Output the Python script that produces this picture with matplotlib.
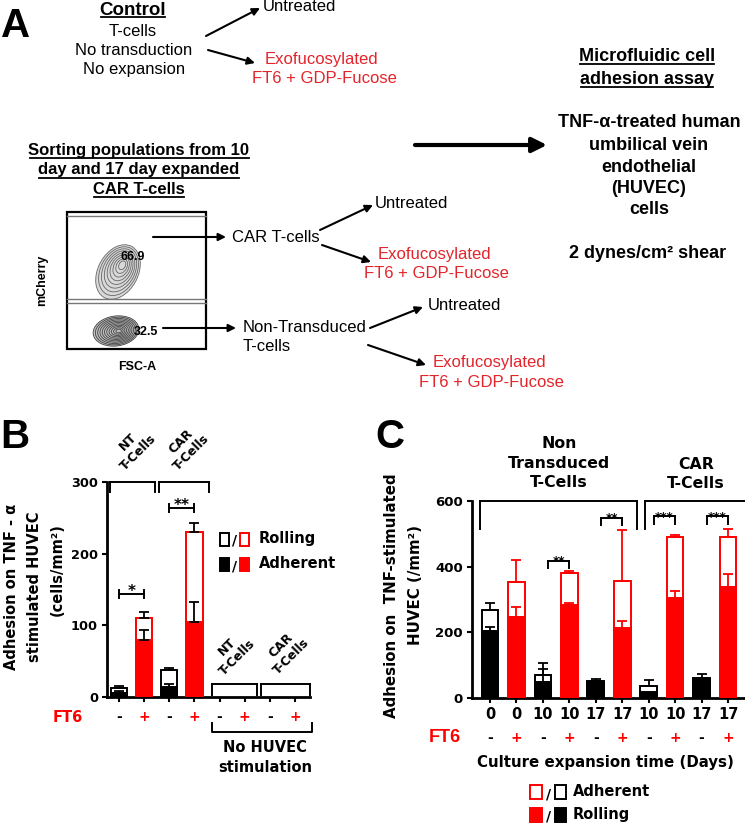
import matplotlib
matplotlib.use("Agg")
import matplotlib.pyplot as plt
import matplotlib.transforms as mtransforms
from matplotlib.patches import Rectangle, Ellipse

RED = "#ff0000"
TXT_RED = "#e3242b"
INK = "black"
SANS = "Liberation Sans"
PRISM = "DejaVu Sans"

plt.rcParams.update({
    "font.family": PRISM,
    "font.weight": "bold",
    "axes.linewidth": 2.0,
})

# --- Panel B : adhesion on TNF-stimulated HUVEC (cells/mm2) ---
b_ft6 = ["-", "+", "-", "+", "-", "+", "-", "+"]
b_total = [12, 110, 37, 230, 0, 0, 0, 0]          # rolling + adherent
b_total_err = [4, 8, 3, 13, 0, 0, 0, 0]
b_adherent = [5, 79, 14, 105, 0, 0, 0, 0]
b_adherent_err = [3, 15, 4, 28, 0, 0, 0, 0]
b_sig = [(0, 1, 144, "*"), (2, 3, 264, "**")]

# --- Panel C : adhesion vs culture expansion time ---
c_days = ["0", "0", "10", "10", "17", "17", "10", "10", "17", "17"]
c_ft6 = ["-", "+", "-", "+", "-", "+", "-", "+", "-", "+"]
c_total = [267, 352, 71, 381, 51, 357, 36, 489, 61, 491]
c_total_err = [21, 68, 37, 5, 8, 155, 20, 7, 11, 24]
c_rolling = [204, 247, 49, 283, 49, 212, 18, 306, 58, 339]
c_rolling_err = [13, 29, 40, 7, 0, 22, 0, 20, 0, 38]
c_sig = [(2.2, 3, 417, "**"), (4.2, 5, 549, "**"), (6.2, 7, 553, "***"), (8.2, 9, 553, "***")]

W, H = 745, 824
fig = plt.figure(figsize=(W / 100, H / 100), dpi=100)

# overlay in pixel coords (y down) for the schematic and free text
ov = fig.add_axes([0, 0, 1, 1], zorder=10)
ov.set_xlim(0, W)
ov.set_ylim(H, 0)
ov.axis("off")
ov.patch.set_alpha(0)


def T(x, y, s, size=12, weight="normal", color=INK, ha="center", va="center", family=SANS, **kw):
    return ov.text(x, y, s, fontsize=size, fontweight=weight, color=color, ha=ha, va=va,
                   family=family, **kw)


def arrow(x0, y0, x1, y1, lw=1.5, ms=11):
    ov.annotate("", xy=(x1, y1), xytext=(x0, y0),
                arrowprops=dict(arrowstyle="-|>", lw=lw, color=INK, mutation_scale=ms,
                                shrinkA=0, shrinkB=0))


underlined = []

# ---------------- Panel A ----------------
T(1, 37, "A", size=29, weight="bold", ha="left", va="baseline")
underlined.append((T(133, 10, "Control", size=13.5, weight="bold"), 17))
T(133, 31, "T-cells")
T(134, 50, "No transduction")
T(134, 69, "No expansion")
arrow(206, 36, 260, 8)
arrow(208, 50, 255, 63)
T(263, 6, "Untreated", ha="left")
T(321, 59, "Exofucosylated", color=TXT_RED)
T(324, 78, "FT6 + GDP-Fucose", color=TXT_RED)

underlined.append((T(647, 56, "Microfluidic cell", size=13, weight="bold"), 64))
underlined.append((T(647, 79, "adhesion assay", size=13, weight="bold"), 87))
for yy, s in zip([122, 145, 167, 188, 209],
                 ["TNF-\u03b1-treated human", "umbilical vein", "endothelial", "(HUVEC)", "cells"]):
    T(649, yy, s, size=13, weight="bold")
T(648, 253, "2 dynes/cm\u00b2 shear", size=13, weight="bold")
arrow(415, 145, 547, 145, lw=3, ms=22)

underlined.append((T(139, 150, "Sorting populations from 10", size=12, weight="bold"), 158))
underlined.append((T(139, 169, "day and 17 day expanded", size=12, weight="bold"), 178))
underlined.append((T(139, 189, "CAR T-cells", size=12, weight="bold"), 197))

# flow plot box with contour rings
ov.add_patch(Rectangle((67, 212), 139, 137, fill=False, lw=1.6, ec=INK))
for yy in [216, 299, 303]:
    ov.plot([67, 206], [yy, yy], color="#777777", lw=1.0)
for k in range(9):
    s = 1 - k * 0.105
    ov.add_patch(Ellipse((118 + 5 * (1 - s), 272 - 8 * (1 - s)), 58 * s, 40 * s, angle=-62,
                         fc="#d9d9d9" if k == 0 else "none", ec="#666666", lw=0.6))
for k in range(11):
    s = 1 - k * 0.088
    ov.add_patch(Ellipse((116 + 3 * (1 - s), 331), 46 * s, 30 * s, angle=-8,
                         fc="#bdbdbd" if k == 0 else "none", ec="#444444", lw=0.6))
T(133, 257, "66.9", size=9, weight="bold")
T(146, 332, "32.5", size=9, weight="bold")
T(42, 280, "mCherry", size=9, weight="bold", rotation=90)
T(137, 367, "FSC-A", size=9, weight="bold")

arrow(153, 237, 226, 237)
T(232, 237, "CAR T-cells", ha="left")
arrow(163, 328, 236, 328)
T(243, 327, "Non-Transduced", ha="left")
T(243, 346, "T-cells", ha="left")

arrow(320, 230, 373, 205)
T(375, 203, "Untreated", ha="left")
arrow(322, 245, 371, 262)
T(434, 254, "Exofucosylated", color=TXT_RED)
T(436, 273, "FT6 + GDP-Fucose", color=TXT_RED)
arrow(370, 328, 423, 307)
T(428, 305, "Untreated", ha="left")
arrow(368, 345, 426, 365)
T(489, 362, "Exofucosylated", color=TXT_RED)
T(491, 382, "FT6 + GDP-Fucose", color=TXT_RED)


# ---------------- helpers for bar panels ----------------
def stacked(ax, total, total_err, filled, filled_err, signs, width, err_top, err_in):
    pos = list(range(len(total)))
    cols = [INK if s == "-" else RED for s in signs]
    keep = [i for i in pos if total[i] > 0]
    ax.bar([pos[i] for i in keep], [total[i] for i in keep], width, facecolor="white",
           edgecolor=[cols[i] for i in keep], linewidth=1.4, zorder=2)
    ax.bar([pos[i] for i in keep], [filled[i] for i in keep], width,
           color=[cols[i] for i in keep], edgecolor=[cols[i] for i in keep],
           linewidth=1.4, zorder=3)
    for i in keep:
        ec = err_top or cols[i]
        ax.errorbar(pos[i], total[i], yerr=[[0], [total_err[i]]], fmt="none", ecolor=ec,
                    elinewidth=1.3, capsize=3.5, capthick=1.3, zorder=4)
        if filled_err[i] > 0:
            ec = err_in or cols[i]
            ax.errorbar(pos[i], filled[i], yerr=[[0], [filled_err[i]]], fmt="none", ecolor=ec,
                        elinewidth=1.3, capsize=3.5, capthick=1.3, zorder=4)


def style(ax):
    for sp in ["top", "right"]:
        ax.spines[sp].set_visible(False)
    ax.tick_params(axis="both", direction="out", length=3.5, width=1.5, pad=3)
    for lab in ax.get_yticklabels() + ax.get_xticklabels():
        lab.set_fontweight("bold")


def bracket(ax, x0, x1, y, drop, both=False, lw=1.4):
    lo = y - drop
    hi = y + drop if both else y
    ax.plot([x0, x1], [y, y], color=INK, lw=lw, clip_on=False, zorder=5)
    for xx in (x0, x1):
        ax.plot([xx, xx], [lo, hi], color=INK, lw=lw, clip_on=False, zorder=5)


# ---------------- Panel B ----------------
axB = fig.add_axes([107 / W, 1 - 697 / H, 203 / W, 215 / H])
stacked(axB, b_total, b_total_err, b_adherent, b_adherent_err, b_ft6, 0.65, INK, INK)
axB.set_xlim(-0.48, 7.6)
axB.set_ylim(0, 300)
axB.set_yticks([0, 100, 200, 300])
axB.set_xticks(range(len(b_ft6)))
axB.set_xticklabels([""] * len(b_ft6))
axB.tick_params(axis="y", labelsize=9.3)
style(axB)
for x0, x1, y, s in b_sig:
    bracket(axB, x0, x1, y, 6, both=True)
    axB.text((x0 + x1) / 2, y + 3, s, ha="center", va="center", fontsize=11, fontweight="bold")
for x0, x1 in [(-0.36, 1.44), (1.6, 3.56)]:
    bracket(axB, x0, x1, 300, 14)
for x0, x1 in [(3.7, 5.5), (5.66, 7.6)]:
    bracket(axB, x0, x1, 18, 15)

blB = mtransforms.blended_transform_factory(axB.transData, ov.transData)
for i, s in enumerate(b_ft6):
    axB.text(i, 717, s, transform=blB, ha="center", va="center", fontsize=10,
             fontweight="bold", color=INK if s == "-" else RED, clip_on=False)
T(68, 717, "FT6", size=10.5, weight="bold", color=RED, family=PRISM)
ov.plot([212, 212, 312, 312], [723, 732, 732, 723], color=INK, lw=1.4)
T(265, 747, "No HUVEC", size=10.5, weight="bold", family=PRISM)
T(265, 767, "stimulation", size=10.5, weight="bold", family=PRISM)

for x, y, s in [(133, 447, "NT\nT-Cells"), (186, 447, "CAR\nT-Cells"),
                (232, 652, "NT\nT-Cells"), (286, 651, "CAR\nT-Cells")]:
    T(x, y, s, size=9, weight="bold", family=PRISM, rotation=45, multialignment="center")

T(12, 587, "Adhesion on TNF - \u03b1", size=10.5, weight="bold", family=PRISM, rotation=90)
T(35, 587, "stimulated HUVEC", size=10.5, weight="bold", family=PRISM, rotation=90)
T(57, 570, "(cells/mm\u00b2)", size=10.5, weight="bold", family=PRISM, rotation=90)

# legend B
for yy, filled in [(539, False), (564, True)]:
    ov.add_patch(Rectangle((220, yy - 6.5), 9, 13, fill=filled, fc=INK, ec=INK, lw=1.4))
    ov.add_patch(Rectangle((240, yy - 6.5), 9, 13, fill=filled, fc=RED, ec=RED, lw=1.4))
    T(234.5, yy + 2, "/", size=10, weight="bold", family=PRISM)
T(259, 539, "Rolling", size=10.5, weight="bold", family=PRISM, ha="left")
T(259, 564, "Adherent", size=10.5, weight="bold", family=PRISM, ha="left")
T(0, 448, "B", size=29, weight="bold", ha="left", va="baseline")

# ---------------- Panel C ----------------
axC = fig.add_axes([472 / W, 1 - 698 / H, 273 / W, 197 / H])
stacked(axC, c_total, c_total_err, c_rolling, c_rolling_err, c_ft6, 0.63, None, None)
axC.set_xlim(-0.68, 9.64)
axC.set_ylim(0, 600)
axC.set_yticks([0, 200, 400, 600])
axC.set_xticks(range(len(c_days)))
axC.set_xticklabels(c_days)
axC.tick_params(axis="y", labelsize=9.5)
axC.tick_params(axis="x", labelsize=10.5)
style(axC)
for x0, x1, y, s in c_sig:
    bracket(axC, x0, x1, y, 22)
    axC.text((x0 + x1) / 2, y - 2, s, ha="center", va="center", fontsize=8.5, fontweight="bold")
bracket(axC, -0.38, 5.55, 600, 85)
bracket(axC, 5.85, 12, 600, 85)

blC = mtransforms.blended_transform_factory(axC.transData, ov.transData)
for i, s in enumerate(c_ft6):
    axC.text(i, 738, s, transform=blC, ha="center", va="center", fontsize=10,
             fontweight="bold", color=INK if s == "-" else RED, clip_on=False)
T(445, 738, "FT6", size=13, weight="bold", color=RED)
T(605, 762, "Culture expansion time (Days)", size=10.8, weight="bold", family=PRISM)
T(559, 463, "Non\nTransduced\nT-Cells", size=11.3, weight="bold", family=PRISM, linespacing=1.38)
T(696, 474, "CAR\nT-Cells", size=11.3, weight="bold", family=PRISM, linespacing=1.38)
T(391, 596, "Adhesion on  TNF-stimulated", size=10.8, weight="bold", family=PRISM, rotation=90)
T(416, 585, "HUVEC (/mm\u00b2)", size=10.8, weight="bold", family=PRISM, rotation=90)

for yy, filled in [(792, False), (815, True)]:
    ov.add_patch(Rectangle((530, yy - 7), 12, 14, fill=filled, fc=RED, ec=RED, lw=1.4))
    ov.add_patch(Rectangle((555, yy - 7), 11, 14, fill=filled, fc=INK, ec=INK, lw=1.4))
    T(548.5, yy + 2, "/", size=10, weight="bold", family=PRISM)
T(573, 792, "Adherent", size=10.5, weight="bold", family=PRISM, ha="left")
T(573, 815, "Rolling", size=10.5, weight="bold", family=PRISM, ha="left")
T(375, 448, "C", size=29, weight="bold", ha="left", va="baseline")

# underlines measured from the rendered text extents
fig.canvas.draw()
r = fig.canvas.get_renderer()
for t, yy in underlined:
    bb = t.get_window_extent(r)
    ov.plot([bb.x0 + 1, bb.x1 - 1], [yy, yy], color=INK, lw=1.3)

fig.savefig("out.png", dpi=100)
